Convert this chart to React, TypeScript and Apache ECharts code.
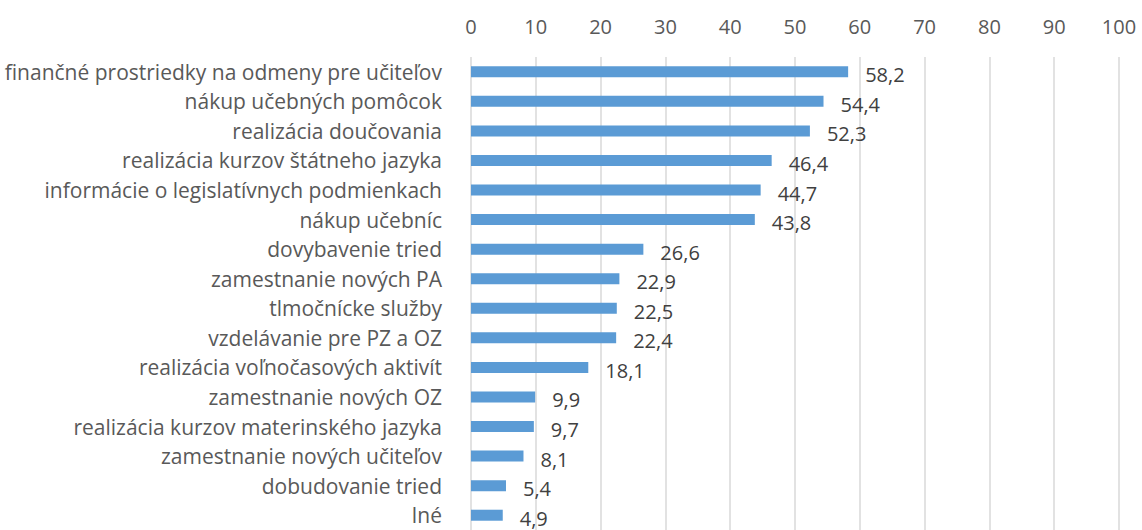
import React, { useEffect, useRef } from "react";
import * as echarts from "echarts";

const categories = [
  "finančné prostriedky na odmeny pre učiteľov",
  "nákup učebných pomôcok",
  "realizácia doučovania",
  "realizácia kurzov štátneho jazyka",
  "informácie o legislatívnych podmienkach",
  "nákup učebníc",
  "dovybavenie tried",
  "zamestnanie nových PA",
  "tlmočnícke služby",
  "vzdelávanie pre PZ a OZ",
  "realizácia voľnočasových aktivít",
  "zamestnanie nových OZ",
  "realizácia kurzov materinského jazyka",
  "zamestnanie nových učiteľov",
  "dobudovanie tried",
  "Iné",
];
const values = [58.2, 54.4, 52.3, 46.4, 44.7, 43.8, 26.6, 22.9, 22.5, 22.4, 18.1, 9.9, 9.7, 8.1, 5.4, 4.9];

const FONT = "Open Sans";

export default function App() {
  const ref = useRef<HTMLDivElement>(null);
  useEffect(() => {
    document.body.style.margin = "0";
    document.body.style.overflow = "hidden";
    const chart = echarts.init(ref.current!, null, { renderer: "svg" });
    chart.setOption({
      animation: false,
      backgroundColor: "#ffffff",
      grid: { left: 471, right: 23, top: 57, bottom: -7, containLabel: false },
      xAxis: {
        type: "value",
        position: "top",
        min: 0,
        max: 100,
        interval: 10,
        axisLine: { show: false },
        axisTick: { show: false },
        axisLabel: { color: "#595959", fontSize: 20, fontFamily: FONT, margin: 21 },
        splitLine: { lineStyle: { color: "#d9d9d9", width: 1.5 } },
      },
      yAxis: {
        type: "category",
        inverse: true,
        data: categories,
        axisLine: { show: false },
        axisTick: { show: false },
        axisLabel: { color: "#595959", fontSize: 21, fontFamily: FONT, margin: 29 },
      },
      series: [
        {
          type: "bar",
          data: values,
          barWidth: 11,
          itemStyle: { color: "#5B9BD5" },
          label: {
            show: true,
            position: "right",
            distance: 17,
            offset: [0, 3],
            color: "#404040",
            fontSize: 20,
            fontFamily: FONT,
            formatter: (p: any) => String(p.value).replace(".", ","),
          },
        },
      ],
    });
    return () => chart.dispose();
  }, []);
  return <div ref={ref} style={{ width: 1142, height: 530 }} />;
}
